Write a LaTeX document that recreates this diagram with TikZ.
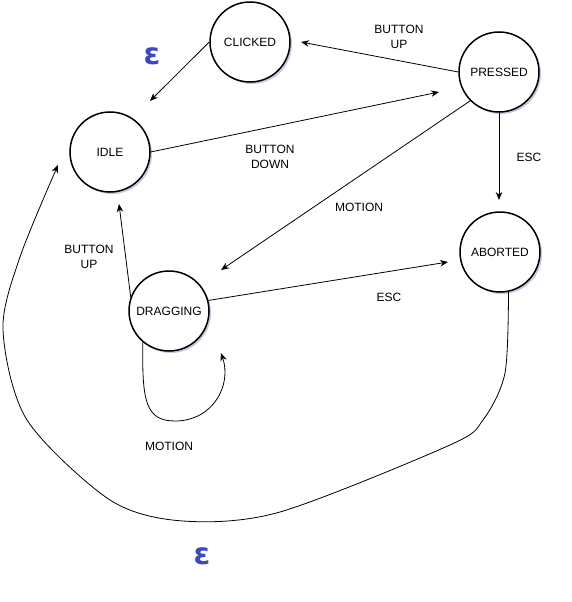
\documentclass[tikz,border=0pt]{standalone}
\usepackage{fontspec}
\setmainfont{Liberation Sans}
\newfontfamily\epsfont{DejaVu Sans}
\usetikzlibrary{arrows.meta,shadows}
\definecolor{epsblue}{RGB}{58,74,188}
\begin{document}
\begin{tikzpicture}[x=1pt,y=-1pt,
  state/.style={circle, draw, line width=1.5pt, minimum size=80pt, inner sep=0pt,
    fill=white, font=\fontsize{12}{14}\selectfont,
    drop shadow={shadow xshift=2pt, shadow yshift=-2pt, opacity=0.22, fill=black!60!blue}},
  edge/.style={line width=0.8pt, -{Stealth[length=8pt,width=6.5pt]}},
  lbl/.style={font=\fontsize{12}{15}\selectfont, align=center, inner sep=0pt},
  eps/.style={font=\epsfont\bfseries\fontsize{30}{30}\selectfont, text=epsblue, inner sep=0pt}]
\useasboundingbox (0,0) rectangle (571,602);

% states
\node[state] (CLICKED)  at (250,42)  {CLICKED};
\node[state] (PRESSED)  at (499,72)  {PRESSED};
\node[state] (IDLE)     at (110,152) {IDLE};
\node[state] (ABORTED)  at (500,252) {ABORTED};
\node[state] (DRAGGING) at (169,311) {DRAGGING};

% free arrow ends
\coordinate (tipClicked)  at (301,42);
\coordinate (tipIdleA)    at (150,101);
\coordinate (tipPressed)  at (439,92);
\coordinate (tipAborted)  at (499,200);
\coordinate (tipDragging) at (221,270);
\coordinate (tipAbortedB) at (448,262);
\coordinate (tipIdleB)    at (119,204);
\coordinate (tipLoop)     at (221,353);
\coordinate (tipIdleC)    at (58,165);

% transitions
\draw[edge] (PRESSED.west) -- (tipClicked);
\draw[edge] (CLICKED.west) -- (tipIdleA);
\draw[edge] (IDLE.east) -- (tipPressed);
\draw[edge] (PRESSED.south) -- (tipAborted);
\draw[edge] (PRESSED.south west) -- (tipDragging);
\draw[edge] (DRAGGING.15) -- (tipAbortedB);
\draw[edge] (DRAGGING.160) -- (tipIdleB);
\draw[edge] (DRAGGING.-130) .. controls (142,400) and (145,421) .. (175,421)
            .. controls (213,421) and (232,385) .. (tipLoop);
\draw[edge] plot[smooth, tension=0.5] coordinates {
  (ABORTED.-78) (505,373) (483,420) (450,445) (280,512) (183,521)
  (110,500) (27,420) (3,330) (20,257) (tipIdleC)};

% transition labels
\node[lbl] at (399,37)  {BUTTON\\UP};
\node[lbl] at (270,157) {BUTTON\\DOWN};
\node[lbl] at (529,157) {ESC};
\node[lbl] at (359,207) {MOTION};
\node[lbl] at (389,297) {ESC};
\node[lbl] at (89,257)  {BUTTON\\UP};
\node[lbl] at (169,446) {MOTION};

% epsilon marks
\node[eps] (eps1) at (152,56) {ε};
\node[eps] (eps2) at (202,556) {ε};
\end{tikzpicture}
\end{document}
